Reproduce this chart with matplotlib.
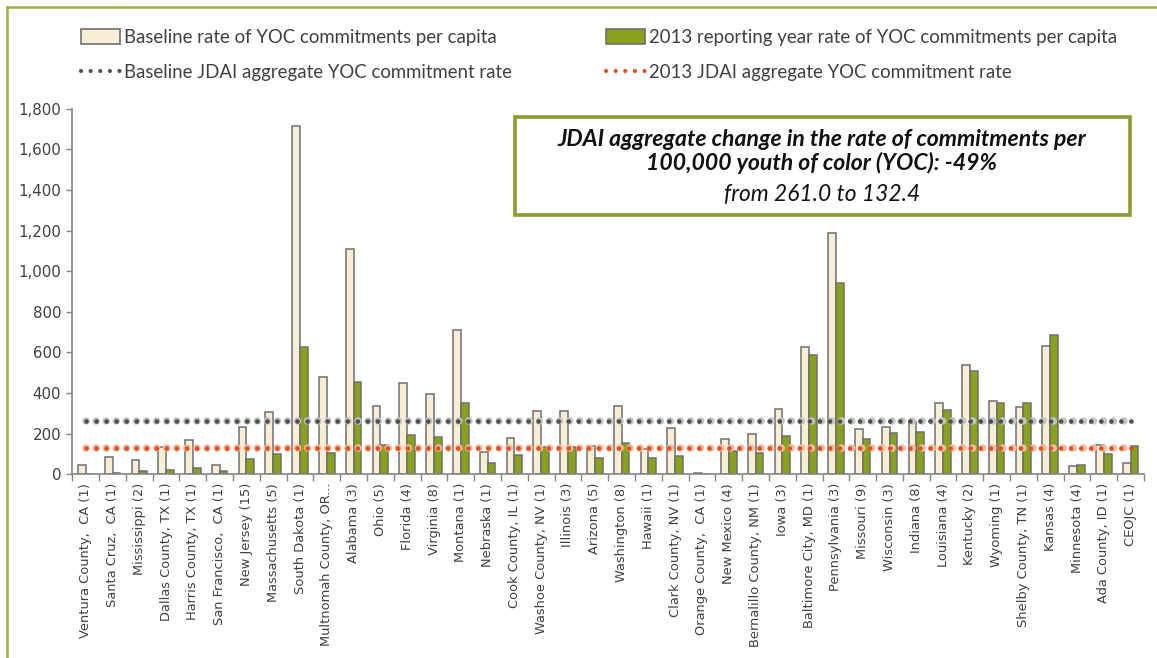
import matplotlib.pyplot as plt
from matplotlib.patches import Patch, Rectangle
from matplotlib.lines import Line2D
import numpy as np

sites = [
    "Ventura County,  CA (1)", "Santa Cruz,  CA (1)", "Mississippi (2)",
    "Dallas County, TX (1)", "Harris County, TX (1)", "San Francisco,  CA (1)",
    "New Jersey (15)", "Massachusetts (5)", "South Dakota (1)",
    "Multnomah County, OR...", "Alabama (3)", "Ohio (5)", "Florida (4)",
    "Virginia (8)", "Montana (1)", "Nebraska (1)", "Cook County, IL (1)",
    "Washoe County, NV (1)", "Illinois (3)", "Arizona (5)", "Washington (8)",
    "Hawaii (1)", "Clark County, NV (1)", "Orange County,  CA (1)",
    "New Mexico (4)", "Bernalillo County, NM (1)", "Iowa (3)",
    "Baltimore City, MD (1)", "Pennsylvania (3)", "Missouri (9)",
    "Wisconsin (3)", "Indiana (8)", "Louisiana (4)", "Kentucky (2)",
    "Wyoming (1)", "Shelby County, TN (1)", "Kansas (4)", "Minnesota (4)",
    "Ada County, ID (1)", "CEOJC (1)",
]

baseline_rate = [
    46, 88, 70, 136, 167, 44, 233, 307, 1715, 480,
    1111, 335, 450, 395, 710, 108, 177, 310, 310, 138,
    338, 123, 230, 7, 172, 200, 321, 625, 1190, 223,
    234, 259, 351, 539, 362, 333, 631, 41, 146, 54,
]
rate_2013 = [
    0, 6, 15, 20, 34, 15, 77, 100, 628, 105,
    457, 146, 193, 182, 352, 54, 97, 133, 133, 79,
    157, 79, 92, 3, 115, 103, 189, 589, 941, 175,
    205, 211, 315, 510, 351, 351, 684, 48, 102, 138,
]

agg_baseline = 261.0
agg_2013 = 132.4

cream = "#F8EED6"
green = "#88A21E"
edge = "#6F6F6F"
text_col = "#404040"
olive = "#8E9A2B"
grey_dot, grey_halo = "#505050", "#C4C4C4"
red_dot, red_halo = "#E4501C", "#F2BCA4"

fig = plt.figure(figsize=(11.57, 6.58), dpi=100)
ax = fig.add_axes([0.0625, 0.279, 0.9263, 0.556])

x = np.arange(len(sites))
w = 0.29
ax.bar(x - w / 2, baseline_rate, w, color=cream, edgecolor=edge, linewidth=1.1, zorder=2)
ax.bar(x + w / 2, rate_2013, w, color=green, edgecolor=edge, linewidth=1.1, zorder=2)


def dotted(ax_, y, core, halo):
    # round-capped dots with a soft halo, 10 px apart
    xs = [x[0], x[-1]]
    ys = [y, y]
    spacing = 7.2  # points
    for lw, col in ((5.4, halo), (3.4, core)):
        ax_.plot(xs, ys, color=col, lw=lw, dash_capstyle="round",
                 dashes=(0.01, spacing / lw), zorder=3)


dotted(ax, agg_baseline, grey_dot, grey_halo)
dotted(ax, agg_2013, red_dot, red_halo)

ax.set_xlim(-0.5, len(sites) - 0.5)
ax.set_ylim(0, 1800)
ax.set_yticks(range(0, 1801, 200))
ax.set_yticklabels([f"{v:,}" for v in range(0, 1801, 200)])
ax.set_xticks(x)
ax.set_xticklabels(sites, rotation=90, fontsize=9.4, color=text_col)
ax.set_xticks(np.arange(len(sites) + 1) - 0.5, minor=True)
ax.tick_params(axis="x", which="major", length=0, pad=6)
ax.tick_params(axis="x", which="minor", length=5, color="#868686", width=1)
ax.tick_params(axis="y", length=4, color="#868686", width=1, labelsize=10.8,
               labelcolor=text_col, pad=4)
for s in ("top", "right"):
    ax.spines[s].set_visible(False)
for s in ("left", "bottom"):
    ax.spines[s].set_color("#868686")
    ax.spines[s].set_linewidth(1.2)

# legends across the top
leg_font = {"family": ["Lato", "DejaVu Sans"], "size": 13.4}


def dot_handle(core):
    return Line2D([], [], color=core, lw=3.0, dash_capstyle="round", dashes=(0.01, 2.3))


h_base = Patch(facecolor=cream, edgecolor=edge, linewidth=1.2)
h_2013 = Patch(facecolor=green, edgecolor=edge, linewidth=1.2)
leg_kw = dict(loc="upper left", frameon=False, prop=leg_font, handlelength=2.1,
              handleheight=0.9, handletextpad=0.2, labelspacing=1.0,
              labelcolor=text_col)
fig.legend([h_base, dot_handle(grey_dot)],
           ["Baseline rate of YOC commitments per capita",
            "Baseline JDAI aggregate YOC commitment rate"],
           bbox_to_anchor=(0.0555, 0.982), **leg_kw)
fig.legend([h_2013, dot_handle(red_dot)],
           ["2013 reporting year rate of YOC commitments per capita",
            "2013 JDAI aggregate YOC commitment rate"],
           bbox_to_anchor=(0.5095, 0.982), **leg_kw)

# annotation box
box = Rectangle((515 / 1157, 1 - 215 / 658), 615 / 1157, 98 / 658,
                transform=fig.transFigure, facecolor="white", edgecolor=olive,
                linewidth=2.6, zorder=5)
fig.add_artist(box)
box_font = ["Lato", "DejaVu Sans"]
title_kw = dict(ha="center", va="center", fontsize=16.6, fontweight="bold",
                fontstyle="italic", family=box_font, color="#111111", zorder=6)
fig.text(822 / 1157, 1 - 140 / 658,
         "JDAI aggregate change in the rate of commitments per", **title_kw)
fig.text(822 / 1157, 1 - 163 / 658, "100,000 youth of color (YOC): -49%", **title_kw)
fig.text(822 / 1157, 1 - 194 / 658, "from 261.0 to 132.4",
         ha="center", va="center", fontsize=16.4, fontstyle="italic",
         family=box_font, color="#111111", zorder=6)

# page frame on the left and top edges
fig.add_artist(Line2D([7 / 1157, 7 / 1157], [0, 1 - 7 / 658], transform=fig.transFigure,
                      color="#A4AE3E", lw=1.8))
fig.add_artist(Line2D([7 / 1157, 1], [1 - 7 / 658, 1 - 7 / 658], transform=fig.transFigure,
                      color="#A4AE3E", lw=1.8))

fig.savefig("out.png", dpi=100)
